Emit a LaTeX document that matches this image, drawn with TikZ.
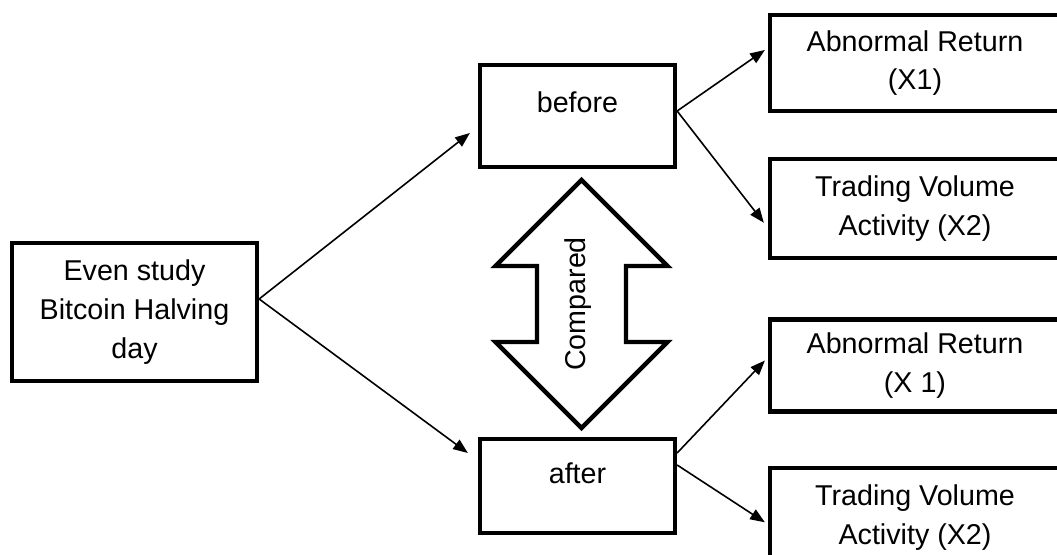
\documentclass[tikz,border=0pt]{standalone}
\usepackage{fontspec}
\setmainfont{Liberation Sans}
\usetikzlibrary{shapes,arrows.meta,positioning,calc}

\begin{document}
\begin{tikzpicture}[x=0.75pt, y=-0.75pt, font=\fontsize{21.5}{29}\selectfont]
        % Define block styles
        \tikzstyle{block} = [rectangle, draw, line width=3.2pt, align=center, inner sep=2pt, minimum width=217.5pt]
        \tikzstyle{line} = [draw, line width=1.2pt, -{Triangle[length=11pt,width=8.5pt]}]
        \tikzstyle{cmparrow} = [draw, line width=3.2pt, line join=miter]

        \useasboundingbox (0,0) rectangle (1057,555);
        \clip (0,0) rectangle (1057,555);

        % Nodes
        \node [block, minimum width=183.75pt, minimum height=103.5pt] (Event) at (134.5,312) {Even study\\Bitcoin Halving\\day};
        \node [block, minimum width=146.25pt, minimum height=76.5pt, text depth=21pt] (Before) at (577.5,116) {before};
        \node [block, minimum width=146.25pt, minimum height=70.5pt, text depth=20pt] (After) at (577.5,486) {after};
        \node [block, minimum height=72pt] (AR_Before) at (915,63) {Abnormal Return\\(X1)};
        \node [block, minimum height=74.25pt, below=33pt of AR_Before] (TV_Before) {Trading Volume\\Activity (X2)};
        \node [block, minimum height=69pt, below=42.75pt of TV_Before] (AR_After) {Abnormal Return\\(X 1)};
        \node [block, minimum height=74.25pt, below=39pt of AR_After] (TV_After) {Trading Volume\\Activity (X2)};
        \node [rotate=90] (Compared) at (578,304) {Compared};

        % Compared double arrow
        \draw [cmparrow, shift={(581.5,304)}] (0,-124) -- (86,-38) -- (44.5,-38) -- (44.5,38) -- (86,38) -- (0,124)
            -- (-86,38) -- (-44.5,38) -- (-44.5,-38) -- (-86,-38) -- cycle;

        % Arrows
        \path [line] ($(Event.east)+(0,-13)$) -- ($(Before.west)+(-8,17)$);
        \path [line] ($(Event.east)+(0,-13)$) -- ($(After.west)+(-10,-33)$);
        \path [line] ($(Before.east)+(0,-5)$) -- ($(AR_Before.west)+(-3,-13)$);
        \path [line] ($(Before.east)+(0,-5)$) -- ($(TV_Before.west)+(-4,14)$);
        \path [line] ($(After.east)+(0,-33)$) -- ($(AR_After.west)+(-3,-5)$);
        \path [line] ($(After.east)+(0,-21)$) -- ($(TV_After.west)+(-3,5)$);
    \end{tikzpicture}
\end{document}
